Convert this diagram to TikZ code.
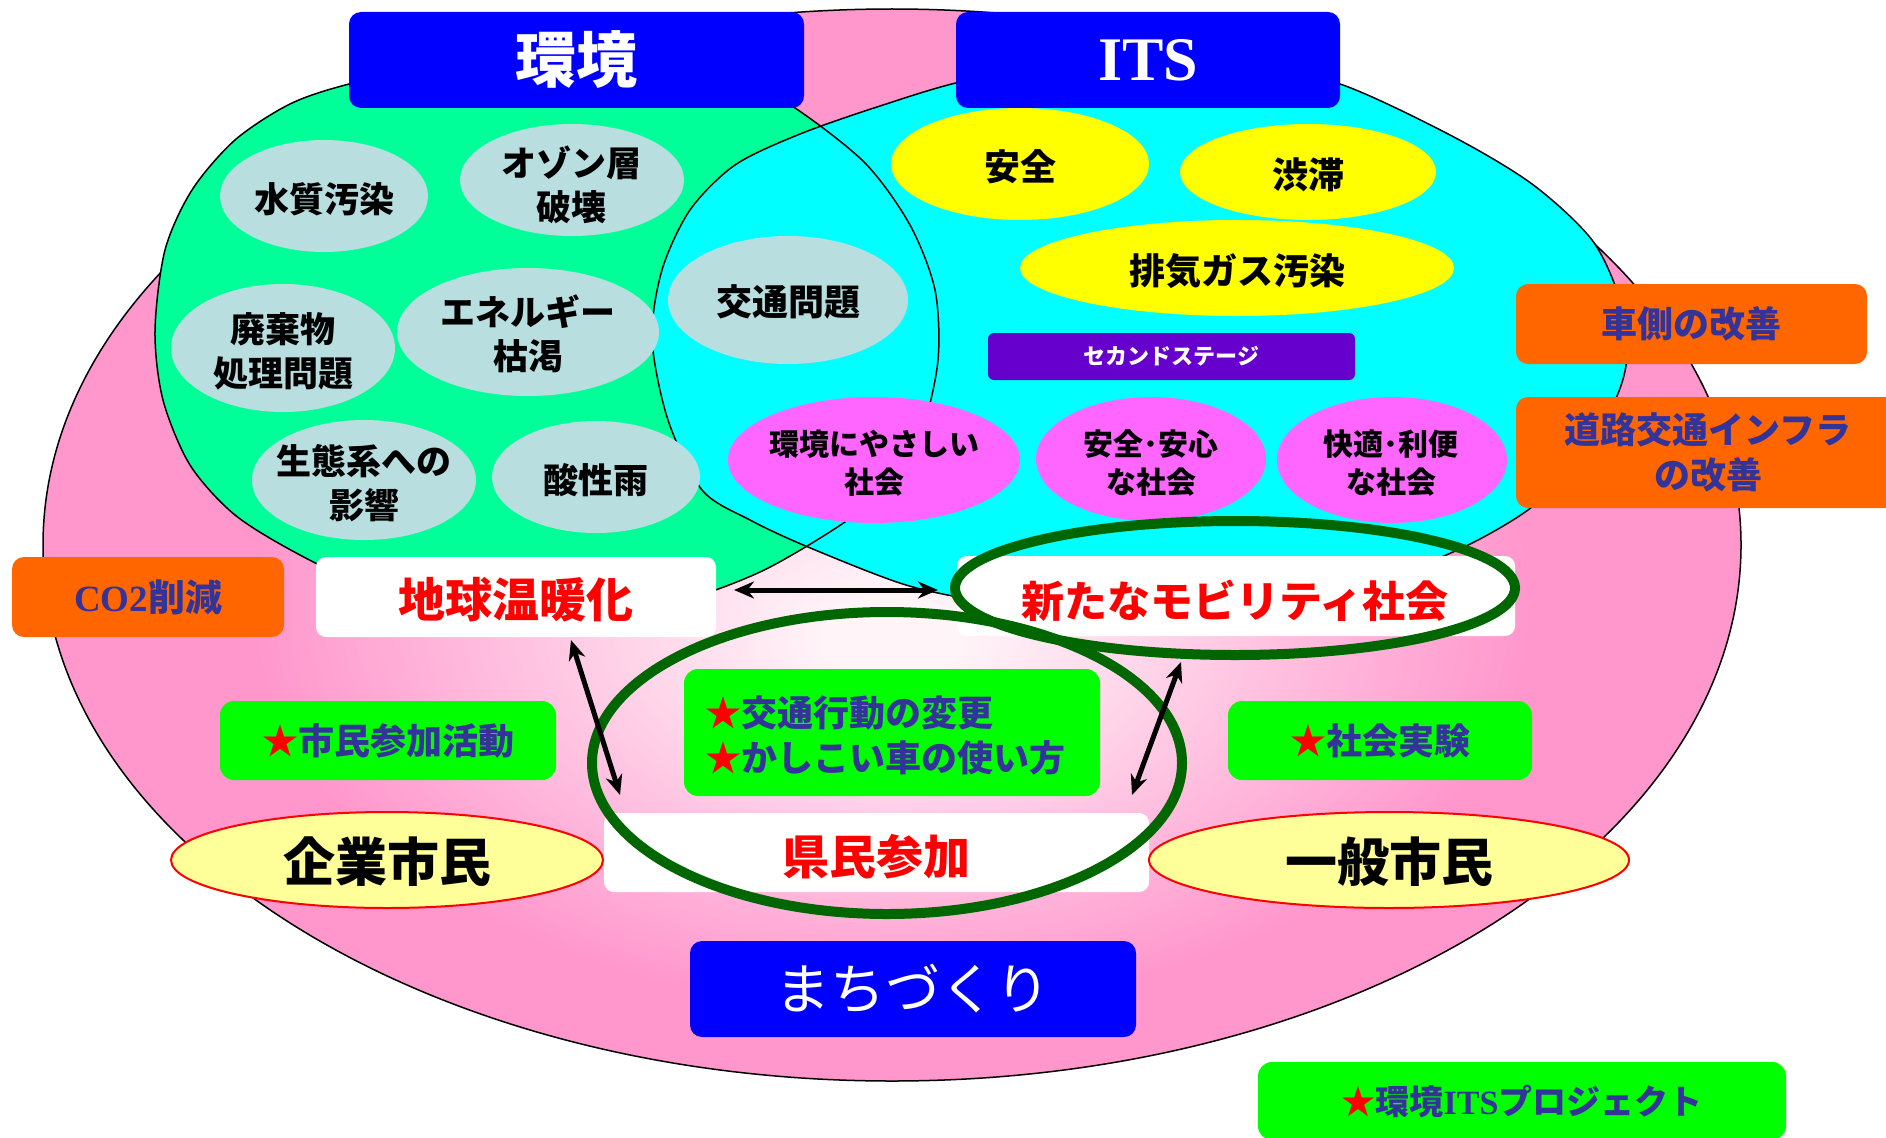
\documentclass[tikz,border=0pt]{standalone}
\usepackage{fontspec}
\newfontfamily\jp{Noto Sans CJK JP}
\newfontfamily\tnr{Liberation Serif}
\usetikzlibrary{arrows.meta}
\newcommand{\myfs}[2]{\fontsize{#1pt}{#2pt}\selectfont}
\definecolor{pinkout}{RGB}{255,150,204}
\definecolor{pinkin}{RGB}{255,244,248}
\definecolor{envgreen}{RGB}{0,255,153}
\definecolor{itscyan}{RGB}{0,255,255}
\definecolor{bubble}{RGB}{184,222,224}
\definecolor{yel}{RGB}{255,255,0}
\definecolor{mag}{RGB}{255,102,255}
\definecolor{purp}{RGB}{102,0,204}
\definecolor{orng}{RGB}{255,102,0}
\definecolor{hblue}{RGB}{0,0,255}
\definecolor{lgreen}{RGB}{0,255,0}
\definecolor{navy}{RGB}{51,51,153}
\definecolor{ringgreen}{RGB}{0,102,0}
\definecolor{lyel}{RGB}{255,255,153}
\pgfdeclareradialshading{pinkshade}{\pgfpoint{0bp}{-4.5bp}}{color(0bp)=(pinkin); color(2bp)=(pinkin); color(19bp)=(pinkout); color(50bp)=(pinkout)}
\newcommand{\rst}{{\color{red}★}}
\begin{document}
\begin{tikzpicture}[x=1pt,y=-1pt,
  every node/.style={inner sep=0pt, outer sep=0pt, align=center},
  headbox/.style={rectangle, rounded corners=12pt, fill=hblue, text=white},
  orbox/.style={rectangle, rounded corners=12pt, fill=orng, text=navy, font=\jp\bfseries\myfs{36}{45}},
  whbox/.style={rectangle, rounded corners=10pt, fill=white},
  grbox/.style={rectangle, rounded corners=14pt, fill=lgreen, text=navy, font=\jp\bfseries\myfs{36}{45}},
  bubtxt/.style={text=black, font=\jp\bfseries\myfs{35}{44}},
  magtxt/.style={text=black, font=\jp\bfseries\myfs{30}{38}},
  redtxt/.style={text=red, font=\jp\bfseries\myfs{47}{47}},
  citytxt/.style={text=black, font=\jp\bfseries\myfs{52}{52}},
  outline/.style={draw=black, line width=1.5pt},
  bigring/.style={draw=ringgreen, line width=10pt},
  dblarrow/.style={{Stealth[length=20pt,width=17pt]}-{Stealth[length=20pt,width=17pt]}, line width=5pt, black}
]
\fill[white] (0,0) rectangle (1886,1137);
\useasboundingbox (0,0) rectangle (1886,1137);

% outer pink ellipse
\shadedraw[shading=pinkshade, outline] (892,545) ellipse [x radius=849pt, y radius=536pt];

% environment and ITS regions
\fill[envgreen] plot[smooth cycle] coordinates {(155,331) (165,250) (192,190) (235,140) (290,104) (349,84) (450,62) (550,54) (650,60) (740,80) (795,108) (865,163) (910,225) (935,290) (938,360) (922,430) (890,485) (842,524) (760,572) (670,604) (570,616) (470,612) (380,592) (300,555) (235,515) (190,465) (163,400)};
\fill[itscyan] plot[smooth cycle] coordinates {(652,339) (662,270) (690,210) (735,165) (800,134) (880,106) (960,82) (1050,68) (1150,63) (1250,68) (1340,84) (1450,135) (1532,184) (1592,240) (1620,300) (1627,355) (1617,396) (1585,455) (1532,507) (1466,546) (1380,580) (1280,600) (1180,610) (1080,608) (990,602) (906,585) (808,547) (750,520) (702,490) (668,420)};
\draw[outline] plot[smooth cycle] coordinates {(155,331) (165,250) (192,190) (235,140) (290,104) (349,84) (450,62) (550,54) (650,60) (740,80) (795,108) (865,163) (910,225) (935,290) (938,360) (922,430) (890,485) (842,524) (760,572) (670,604) (570,616) (470,612) (380,592) (300,555) (235,515) (190,465) (163,400)};
\draw[outline] plot[smooth cycle] coordinates {(652,339) (662,270) (690,210) (735,165) (800,134) (880,106) (960,82) (1050,68) (1150,63) (1250,68) (1340,84) (1450,135) (1532,184) (1592,240) (1620,300) (1627,355) (1617,396) (1585,455) (1532,507) (1466,546) (1380,580) (1280,600) (1180,610) (1080,608) (990,602) (906,585) (808,547) (750,520) (702,490) (668,420)};

% headings
\node[headbox, minimum width=455pt, minimum height=96pt, font=\jp\bfseries\myfs{61}{61}] (env) at (576.5,60) {環境};
\node[headbox, minimum width=384pt, minimum height=96pt, font=\tnr\bfseries\myfs{62}{62}] (its) at (1148,60) {ITS};

% environment bubbles
\fill[bubble] (324,196) ellipse [x radius=104pt, y radius=56pt];
\fill[bubble] (572,180) ellipse [x radius=112pt, y radius=56pt];
\fill[bubble] (283,348) ellipse [x radius=112pt, y radius=64pt];
\fill[bubble] (528,332) ellipse [x radius=131pt, y radius=64pt];
\fill[bubble] (364,480) ellipse [x radius=112pt, y radius=60pt];
\fill[bubble] (596,477) ellipse [x radius=104pt, y radius=56pt];
\fill[bubble] (788,300) ellipse [x radius=120pt, y radius=64pt];
\node[bubtxt] (t1) at (324,199) {水質汚染};
\node[bubtxt] (t2) at (571,185) {オゾン層\\破壊};
\node[bubtxt] (t3) at (283,351) {廃棄物\\処理問題};
\node[bubtxt] (t4) at (528,334) {エネルギー\\枯渇};
\node[bubtxt] (t5) at (364,483) {生態系への\\影響};
\node[bubtxt] (t6) at (596,480) {酸性雨};
\node[bubtxt, font=\jp\bfseries\myfs{36}{44}] (t7) at (788,302) {交通問題};

% ITS bubbles
\fill[yel] (1020,164) ellipse [x radius=129pt, y radius=56pt];
\fill[yel] (1308,172) ellipse [x radius=128pt, y radius=48pt];
\fill[yel] (1237,268) ellipse [x radius=217pt, y radius=48pt];
\node[bubtxt, font=\jp\bfseries\myfs{36}{44}] (y1) at (1020,167) {安全};
\node[bubtxt, font=\jp\bfseries\myfs{36}{44}] (y2) at (1308,175) {渋滞};
\node[bubtxt, font=\jp\bfseries\myfs{36}{44}] (y3) at (1237,271) {排気ガス汚染};
\node[rectangle, rounded corners=6pt, fill=purp, text=white, minimum width=367pt, minimum height=47pt, font=\jp\bfseries\myfs{22}{22}] (second) at (1171.5,356.5) {セカンドステージ};

\fill[mag] (874,460) ellipse [x radius=146pt, y radius=63pt];
\fill[mag] (1151,459) ellipse [x radius=115pt, y radius=62pt];
\fill[mag] (1392,460) ellipse [x radius=115pt, y radius=63pt];
\node[magtxt] (m1) at (874,463) {環境にやさしい\\社会};
\node[magtxt] (m2) at (1151,463) {安全･安心\\な社会};
\node[magtxt] (m3) at (1391,463) {快適･利便\\な社会};

% orange boxes
\node[orbox, minimum width=351pt, minimum height=80pt] (car) at (1691.5,324) {車側の改善};
\node[orbox, minimum width=384pt, minimum height=111pt] (road) at (1708,452.5) {道路交通インフラ\\の改善};
\node[orbox, minimum width=272pt, minimum height=80pt, font=\bfseries\myfs{37}{37}] (co2) at (148,597) {{\tnr CO2}{\jp 削減}};

% white boxes
\node[whbox, minimum width=400pt, minimum height=80pt] (warm) at (516,597) {};
\node[redtxt] (warmt) at (516,600) {地球温暖化};
\node[whbox, minimum width=558pt, minimum height=80pt] (mob) at (1236,596) {};
\node[redtxt, font=\jp\bfseries\myfs{43}{43}] (mobt) at (1235,601) {新たなモビリティ社会};
\node[whbox, minimum width=545pt, minimum height=79pt] (pref) at (876.5,852.5) {};
\node[redtxt, font=\jp\bfseries\myfs{47}{47}] (preft) at (876,857) {県民参加};

% green action boxes
\node[grbox, minimum width=416pt, minimum height=127pt] (act) at (892,732.5) {};
\node[text=navy, font=\jp\bfseries\myfs{36}{45}, align=left] (actt) at (885,735) {\rst 交通行動の変更\\\rst かしこい車の使い方};
\node[grbox, minimum width=336pt, minimum height=79pt] (civ) at (388,740.5) {\rst 市民参加活動};
\node[grbox, minimum width=304pt, minimum height=79pt] (exp) at (1380,740.5) {\rst 社会実験};

% citizens
\filldraw[fill=lyel, draw=red, line width=2pt] (387,860) ellipse [x radius=216pt, y radius=48pt];
\filldraw[fill=lyel, draw=red, line width=2pt] (1389,860) ellipse [x radius=240pt, y radius=48pt];
\node[citytxt] (corp) at (387,862) {企業市民};
\node[citytxt] (gen) at (1389,862) {一般市民};

% machizukuri
\node[headbox, minimum width=446pt, minimum height=96pt, font=\jp\myfs{55}{55}] (town) at (913,989) {まちづくり};

% rings
\draw[bigring] (1235,588) ellipse [x radius=280pt, y radius=67pt];
\draw[bigring] (887,763) ellipse [x radius=295pt, y radius=151pt];

% arrows
\coordinate (a1s) at (734,590);
\coordinate (a1e) at (938,590);
\coordinate (a2s) at (571,640);
\coordinate (a2e) at (620,795);
\coordinate (a3s) at (1181,662);
\coordinate (a3e) at (1132,795);
\draw[dblarrow] (a1s) -- (a1e);
\draw[dblarrow] (a2s) -- (a2e);
\draw[dblarrow] (a3s) -- (a3e);

% project box
\node[grbox, minimum width=528pt, minimum height=78pt, font=\jp\bfseries\myfs{34}{34}] (proj) at (1522,1101) {\rst 環境{\tnr\bfseries ITS}プロジェクト};
\end{tikzpicture}
\end{document}
